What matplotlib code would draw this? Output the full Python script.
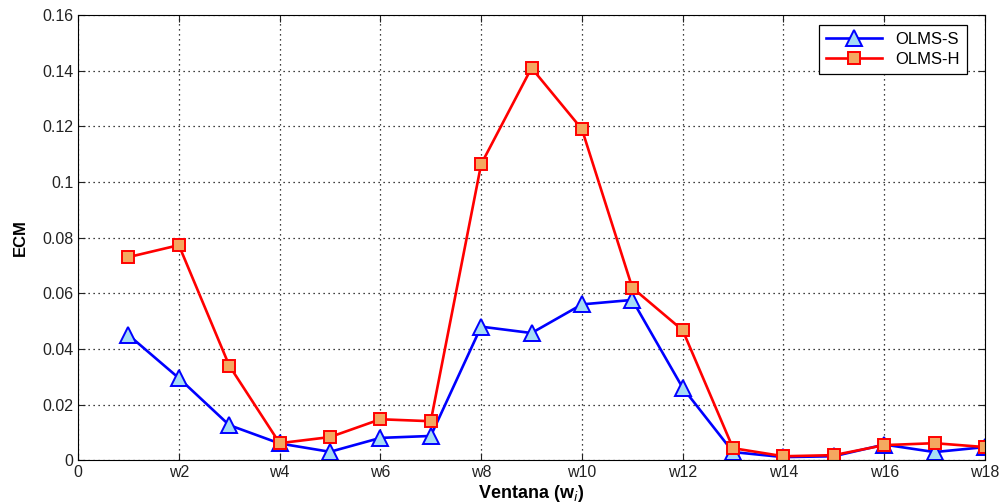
import numpy as np
import matplotlib
matplotlib.use("Agg")
import matplotlib.pyplot as plt

plt.rcParams['font.family'] = ['Liberation Sans', 'DejaVu Sans']

# data
windows = np.arange(1, 19)
olms_s = [0.045, 0.0295, 0.0126, 0.006, 0.003, 0.008, 0.0087, 0.048, 0.0457,
          0.056, 0.0576, 0.026, 0.0029, 0.0011, 0.0014, 0.0056, 0.0029, 0.0047]
olms_h = [0.073, 0.0773, 0.034, 0.0061, 0.0083, 0.0147, 0.014, 0.1064, 0.141,
          0.119, 0.062, 0.0467, 0.0043, 0.0014, 0.0018, 0.0054, 0.0061, 0.0047]
tick_pos = np.arange(0, 19, 2)
tick_labels = ['0'] + ['w%d' % i for i in range(2, 19, 2)]
y_ticks = np.arange(0, 0.161, 0.02)

fig = plt.figure(figsize=(10.01, 5.04), dpi=100)
ax = fig.add_axes([0.078, 0.087, 0.906, 0.883])

ax.plot(windows, olms_s, color='#0000ff', lw=1.9, marker='^', markersize=11,
        markerfacecolor='#a6dcf5', markeredgecolor='#0000ff', markeredgewidth=1.4,
        label='OLMS-S')
ax.plot(windows, olms_h, color='#ff0000', lw=1.9, marker='s', markersize=8,
        markerfacecolor='#f4a860', markeredgecolor='#ff0000', markeredgewidth=1.4,
        label='OLMS-H')

ax.set_xlim(0, 18)
ax.set_ylim(0, 0.16)
ax.set_xticks(tick_pos)
ax.set_xticklabels(tick_labels)
ax.set_yticks(y_ticks)
ax.set_yticklabels(['0', '0.02', '0.04', '0.06', '0.08', '0.1', '0.12', '0.14', '0.16'])
ax.tick_params(direction='in', top=True, right=True, labelsize=11.5, colors='#222222', length=5)
ax.grid(True, linestyle=(0, (1, 3)), color='black', linewidth=0.9)

ax.set_xlabel('Ventana (w$_i$)', fontsize=13, fontweight='bold', labelpad=2)
ax.set_ylabel('ECM', fontsize=12, fontweight='bold', labelpad=10)

leg = ax.legend(loc='upper right', bbox_to_anchor=(0.989, 0.996), fontsize=12,
                fancybox=False, edgecolor='black', framealpha=1,
                handlelength=3.4, borderpad=0.4, labelspacing=0.3)
leg.get_frame().set_linewidth(0.9)

fig.savefig('out.png', dpi=100)
